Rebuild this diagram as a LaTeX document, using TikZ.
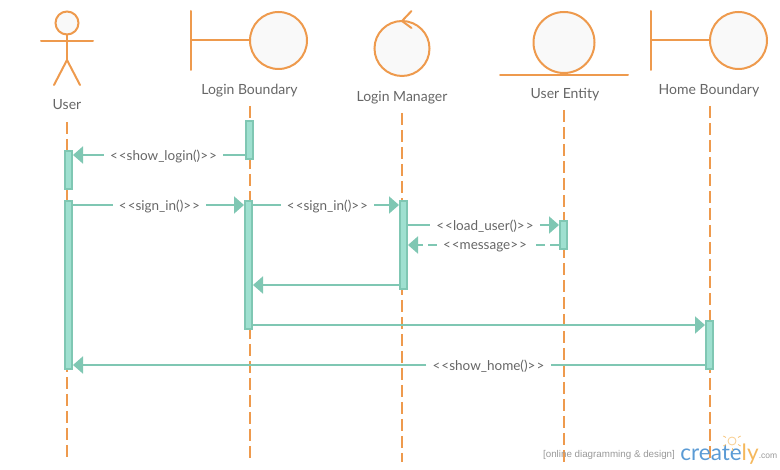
\documentclass[tikz,border=0pt]{standalone}
\usepackage{fontspec}
\setmainfont{Lato}
\newfontfamily\logofont{Liberation Sans}
\usetikzlibrary{arrows.meta}
\definecolor{figline}{HTML}{EE9A4D}
\definecolor{figfill}{HTML}{F9F9F9}
\definecolor{actline}{HTML}{7FC7B3}
\definecolor{actfill}{HTML}{9FE0D0}
\definecolor{txtgray}{HTML}{666666}
\definecolor{logoblue}{HTML}{5B9BD5}
\definecolor{logoorange}{HTML}{F5B85C}
\newcommand{\ltlt}{<\kern1pt<}
\newcommand{\gtgt}{>\kern1pt>}
\tikzstyle{stick} = [draw=figline, line width=2pt, line cap=round]
\tikzstyle{ball} = [circle, draw=figline, fill=figfill, line width=2pt, inner sep=0pt, outer sep=0pt]
\tikzstyle{figname} = [text=txtgray, font=\fontsize{14}{16}\selectfont]
\tikzstyle{lifeline} = [draw=figline, line width=2pt, dash pattern=on 12pt off 5pt]
\tikzstyle{activation} = [rectangle, minimum width=7pt, draw=actline, fill=actfill, line width=2pt, inner sep=0pt, outer sep=1pt]
\tikzstyle{msgtext} = [text=txtgray, inner xsep=6pt, inner ysep=1pt, font=\fontsize{13.5}{15}\selectfont]
\tikzstyle{msgline} = [draw=actline, line width=2pt]
\tikzstyle{arrow} = [msgline, -{Triangle[length=10pt,width=17pt]}]
\tikzstyle{retline} = [dash pattern=on 9pt off 5pt]
\begin{document}
\begin{tikzpicture}[x=1pt, y=-1pt]
\useasboundingbox (0,0) rectangle (780,470);
%User
\coordinate(userhip)at(67,60);
\coordinate(userfootl)at(54,85);
\coordinate(userfootr)at(80,85);
\coordinate(userarml)at(41,41);
\coordinate(userarmr)at(93,41);
\node(userhead)at(67,23)[ball, minimum size=23pt]{};
\draw[stick](userhead)--(userhip);
\draw[stick](userarml)--(userarmr);
\draw[stick](userfootl)--(userhip)--(userfootr);
\node(user)at(67,105)[figname]{User};

%Login boundary
\coordinate(lbtop)at(191,11);
\coordinate(lbbar)at(191,40.5);
\coordinate(lbbot)at(191,70);
\node(lbball)at(278.5,40.5)[ball, minimum size=57pt]{};
\draw[stick](lbtop)--(lbbot);
\draw[stick](lbbar)--(lbball);
\node(lb)at(249.5,91)[figname]{Login Boundary};

%Login manager
\coordinate(lmtip)at(402,21);
\coordinate(lmup)at(411.5,11);
\coordinate(lmdown)at(411.5,28);
\node(lmball)at(402,48.5)[ball, minimum size=55pt]{};
\draw[stick](lmup)--(lmtip)--(lmdown);
\node(lm)at(402,98)[figname]{Login Manager};

%User entity
\coordinate(ueleft)at(500,75);
\coordinate(ueright)at(628,75);
\node(ueball)at(564,42.5)[ball, minimum size=61pt]{};
\draw[stick](ueleft)--(ueright);
\node(ue)at(565,95)[figname]{User Entity};

%Home boundary
\coordinate(hbtop)at(651,11);
\coordinate(hbbar)at(651,40.5);
\coordinate(hbbot)at(651,70);
\node(hbball)at(738.5,40.5)[ball, minimum size=57pt]{};
\draw[stick](hbtop)--(hbbot);
\draw[stick](hbbar)--(hbball);
\node(hb)at(709,91)[figname]{Home Boundary};

%lifelines
\coordinate(userend)at(67,457);
\coordinate(lbend)at(250,458);
\coordinate(lmend)at(402,462);
\coordinate(ueend)at(564,462);
\coordinate(hbend)at(710,462);
\draw[lifeline](67,122)--(userend);
\draw[lifeline](250,106)--(lbend);
\draw[lifeline](402,113)--(lmend);
\draw[lifeline](564,110)--(ueend);
\draw[lifeline](710,106)--(hbend);

%activations
\node(useract1)at(68.5,170)[activation, minimum height=38pt]{};
\node(useract2)at(68.5,285)[activation, minimum height=168pt]{};
\node(lbact1)at(249.5,140)[activation, minimum height=38pt]{};
\node(lbact2)at(248.5,265)[activation, minimum height=128pt]{};
\node(lmact)at(403.5,245)[activation, minimum height=88pt]{};
\node(ueact)at(563.5,235)[activation, minimum height=28pt]{};
\node(hbact)at(709.5,345)[activation, minimum height=48pt]{};

%messages
\node(showlogin)at(163.5,156.5)[msgtext]{\ltlt show\_login()\gtgt};
\node(signin1)at(159.5,206.5)[msgtext]{\ltlt sign\_in()\gtgt};
\node(signin2)at(327.5,206.5)[msgtext]{\ltlt sign\_in()\gtgt};
\node(loaduser)at(485,226.5)[msgtext]{\ltlt load\_user()\gtgt};
\node(message)at(485,246.5)[msgtext]{\ltlt message\gtgt};
\node(showhome)at(488.5,366.5)[msgtext]{\ltlt show\_home()\gtgt};
\coordinate(backrow)at(330,285);
\coordinate(homerow)at(480,325);

%arrows
\draw[msgline](lbact1.west |- 0,155)--(showlogin.east |- 0,155);
\draw[arrow](showlogin.west |- 0,155)--(useract1.east |- 0,155);
\draw[msgline](useract2.east |- 0,205)--(signin1.west |- 0,205);
\draw[arrow](signin1.east |- 0,205)--(lbact2.west |- 0,205);
\draw[msgline](lbact2.east |- 0,205)--(signin2.west |- 0,205);
\draw[arrow](signin2.east |- 0,205)--(lmact.west |- 0,205);
\draw[msgline](lmact.east |- 0,225)--(loaduser.west |- 0,225);
\draw[arrow](loaduser.east |- 0,225)--(ueact.west |- 0,225);
\draw[msgline, retline](ueact.west |- 0,245)--(message.east |- 0,245);
\draw[arrow, retline](message.west |- 0,245)--(lmact.east |- 0,245);
\draw[arrow](lmact.west |- backrow)--(lbact2.east |- backrow);
\draw[arrow](lbact2.east |- homerow)--(hbact.west |- homerow);
\draw[msgline](hbact.west |- 0,365)--(showhome.east |- 0,365);
\draw[arrow](showhome.west |- 0,365)--(useract2.east |- 0,365);

%logo
\node(tagline)at(609,455)[text=gray!80, inner sep=0pt, font=\logofont\fontsize{9.8}{11}\selectfont]{[online diagramming \& design]};
\node(logo)at(719.5,454)[inner sep=0pt, font=\fontsize{22.5}{26}\selectfont]{\textcolor{logoblue}{create}\textcolor{logoorange}{ly}};
\node(dotcom)at(768,456)[text=gray!80, inner sep=0pt, font=\logofont\fontsize{8.5}{11}\selectfont]{.com};
\node(bulb)at(732,441)[circle, draw=logoorange!70, line width=.8pt, minimum size=8pt, inner sep=0pt]{};
\foreach \a in {30,90,150,210,330}
  \draw[logoorange!80, line width=.8pt](bulb.center)++(-\a:7pt)--++(-\a:3pt);
\end{tikzpicture}
\end{document}
